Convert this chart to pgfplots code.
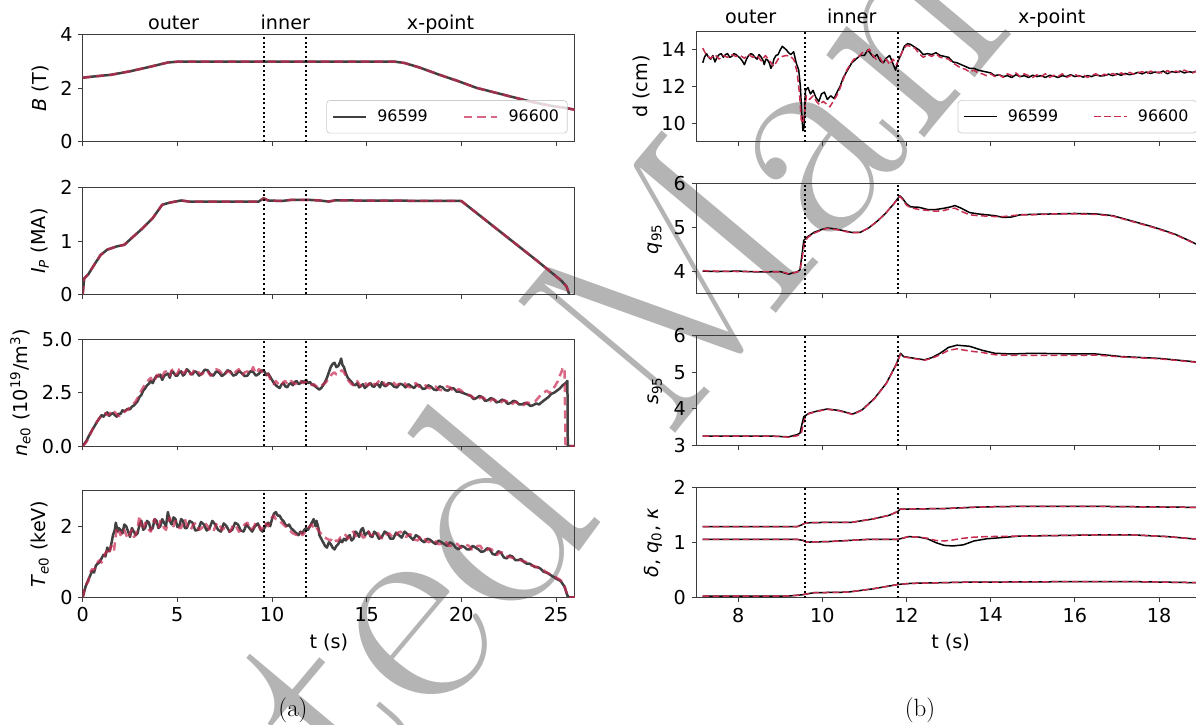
\documentclass[border=0pt]{standalone}
\usepackage{fontspec}
\usepackage{pgfplots}
\pgfplotsset{compat=1.18}
\newfontfamily\djv{DejaVu Sans}
\definecolor{g1}{RGB}{64,64,64}
\definecolor{crim}{RGB}{200,40,80}
\definecolor{crim2}{RGB}{200,45,80}
\definecolor{wm}{RGB}{180,180,180}
\definecolor{spine}{RGB}{60,60,60}
\pgfplotsset{
  every axis/.append style={
    scale only axis, clip mode=individual,
    font=\djv\fontsize{11.5}{13.8}\selectfont,
    /pgf/number format/assume math mode=true,
    axis line style={spine, line width=0.6pt},
    tick style={spine, line width=0.6pt},
    tick align=outside, major tick length=2.6pt,
    xtick pos=left, ytick pos=left,
    legend cell align=left,
    legend image code/.code={\draw[##1] (0pt,0pt) -- (20pt,0pt);},
  },
  L/.style={xmin=0, xmax=26, width=295.4pt, height=64.1pt, xtick={0,5,10,15,20,25}, xticklabels={}},
  R/.style={xmin=7, xmax=19.1, width=305.6pt, height=66pt, xtick={8,10,12,14,16,18}, xticklabels={}},
  s1/.style={color=g1, line width=1.5pt, line join=round},
  s2/.style={color=crim, opacity=0.7, line width=1.5pt, dash pattern=on 5pt off 3pt, line join=round},
  r1/.style={black, line width=0.9pt, line join=round},
  r2/.style={color=crim2, line width=0.9pt, dash pattern=on 4pt off 2pt, line join=round},
  vl/.style={black, line width=1.25pt, dash pattern=on 1.2pt off 1.6pt, forget plot},
  leg/.style={legend columns=2, legend style={at={(1,0)}, anchor=south east, xshift=#1, yshift=5pt,
     draw=black!20, rounded corners=2pt, fill=white, fill opacity=0.8, text opacity=1,
     font=\djv\fontsize{9.5}{11}\selectfont, inner xsep=3pt, inner ysep=3.5pt,
     /tikz/every odd column/.append style={column sep=4pt},
     /tikz/every even column/.append style={column sep=19pt}}},
}
\begin{document}
\begin{tikzpicture}
\useasboundingbox (0,0) rectangle (717.6pt,435pt);
\begin{scope}
\clip (0,0) rectangle (717.6pt,435pt);
\node[rotate=50, anchor=base west, text=wm, inner sep=0pt, font=\fontsize{180}{200}\selectfont] at (-60pt,-380pt) {Accepted Manuscript};

% ---------------- left column ----------------
\begin{axis}[L, at={(49.6pt,414pt)}, anchor=north west, ymin=0, ymax=4, ytick={0,2,4},
  ylabel={\textit{B} (T)}, leg=-4.4pt]
\addplot[s1] coordinates {(0,2.40)(0.5,2.44)(1.5,2.51)(2.5,2.64)(3.5,2.80)(4.5,2.97)(5,3.0)(16.5,3.0)(17,2.95)(17.8,2.78)(18.8,2.52)(19.8,2.28)(20.8,2.02)(21.8,1.84)(22.8,1.66)(23.8,1.48)(24.8,1.34)(25.5,1.27)(26,1.20)};
\addlegendentry{96599}
\addplot[s2] coordinates {(0,2.40)(0.5,2.44)(1.5,2.51)(2.5,2.64)(3.5,2.80)(4.5,2.97)(5,3.0)(16.5,3.0)(17,2.95)(17.8,2.78)(18.8,2.52)(19.8,2.28)(20.8,2.02)(21.8,1.84)(22.8,1.66)(23.8,1.48)(24.8,1.34)(25.5,1.27)(26,1.20)};
\addlegendentry{96600}
\addplot[vl] coordinates {(9.6,0)(9.6,4)};
\addplot[vl] coordinates {(11.8,0)(11.8,4)};
\node[anchor=base, yshift=3.4pt] at (axis cs:4.8,4) {outer};
\node[anchor=base, yshift=3.4pt] at (axis cs:10.7,4) {inner};
\node[anchor=base, yshift=3.4pt] at (axis cs:18.9,4) {x-point};
\end{axis}

\begin{axis}[L, at={(49.6pt,322.4pt)}, anchor=north west, ymin=0, ymax=2, ytick={0,1,2},
  ylabel={\textit{I}\textsubscript{\textit{P}} (MA)}]
\addplot[s1] coordinates {(0,0)(0.08,0.3)(0.3,0.38)(0.6,0.55)(0.95,0.74)(1.3,0.84)(1.8,0.9)(2.2,0.93)(2.6,1.06)(3.2,1.25)(3.7,1.43)(4.2,1.68)(4.6,1.72)(5.2,1.76)(5.6,1.74)(9.3,1.74)(9.55,1.80)(9.8,1.76)(10.5,1.75)(11,1.77)(12,1.77)(12.5,1.76)(13,1.74)(13.3,1.76)(14,1.76)(20,1.75)(21,1.47)(22,1.19)(23,0.91)(24,0.63)(24.9,0.37)(25.3,0.25)(25.55,0.15)(25.65,0.05)(25.7,0)};
\addplot[s2] coordinates {(0,0)(0.08,0.3)(0.3,0.38)(0.6,0.55)(0.95,0.74)(1.3,0.84)(1.8,0.9)(2.2,0.93)(2.6,1.06)(3.2,1.25)(3.7,1.43)(4.2,1.68)(4.6,1.72)(5.2,1.76)(5.6,1.74)(9.3,1.74)(9.55,1.80)(9.8,1.76)(10.5,1.75)(11,1.77)(12,1.77)(12.5,1.76)(13,1.74)(13.3,1.76)(14,1.76)(20,1.75)(21,1.47)(22,1.19)(23,0.91)(24,0.63)(24.9,0.37)(25.3,0.25)(25.55,0.15)(25.65,0.05)(25.7,0)};
\addplot[vl] coordinates {(9.6,0)(9.6,2)};
\addplot[vl] coordinates {(11.8,0)(11.8,2)};
\end{axis}

\begin{axis}[L, at={(49.6pt,231.4pt)}, anchor=north west, ymin=0, ymax=5, ytick={0,2.5,5}, yticklabels={0.0,2.5,5.0},
  ylabel={\textit{n}\textsubscript{\textit{e}0} (10\textsuperscript{19}/m\textsuperscript{3})}]
\addplot[s1] coordinates {(0.0,0.0)(0.2,0.25)(0.4,0.6)(0.6,0.9)(0.8,1.2)(1.0,1.45)(1.1,1.38)(1.2,1.5)(1.3,1.58)(1.4,1.42)(1.5,1.5)(1.6,1.55)(1.7,1.45)(1.8,1.38)(1.9,1.52)(2.0,1.5)(2.1,1.68)(2.2,1.62)(2.3,1.7)(2.4,1.75)(2.5,1.72)(2.6,1.85)(2.7,1.9)(2.8,2.0)(2.9,2.1)(3.0,2.3)(3.1,2.4)(3.2,2.6)(3.3,2.7)(3.4,2.85)(3.5,2.92)(3.6,3.05)(3.7,2.95)(3.8,3.15)(3.9,3.3)(4.0,3.25)(4.1,3.35)(4.2,3.1)(4.3,3.28)(4.4,3.35)(4.5,3.4)(4.6,3.2)(4.7,3.5)(4.8,3.45)(4.9,3.3)(5.0,3.3)(5.1,3.45)(5.2,3.5)(5.3,3.3)(5.4,3.38)(5.5,3.6)(5.6,3.52)(5.7,3.4)(5.8,3.35)(5.9,3.5)(6.0,3.48)(6.15,3.3)(6.3,3.4)(6.45,3.58)(6.6,3.55)(6.75,3.35)(6.9,3.3)(7.05,3.5)(7.2,3.45)(7.35,3.28)(7.5,3.38)(7.65,3.55)(7.8,3.5)(7.95,3.3)(8.1,3.35)(8.25,3.52)(8.4,3.42)(8.55,3.28)(8.7,3.3)(8.85,3.5)(9.0,3.48)(9.15,3.3)(9.3,3.38)(9.45,3.55)(9.6,3.5)(9.7,3.32)(9.8,3.4)(9.9,3.25)(10.0,3.1)(10.1,2.95)(10.2,2.85)(10.3,2.78)(10.4,2.72)(10.5,2.88)(10.6,2.95)(10.7,2.8)(10.8,2.75)(10.9,2.9)(11.0,2.95)(11.1,2.85)(11.2,3.0)(11.3,3.05)(11.4,2.9)(11.5,2.95)(11.6,3.05)(11.7,2.98)(11.8,3.1)(11.9,2.95)(12.0,3.0)(12.1,2.9)(12.2,2.85)(12.35,2.75)(12.5,2.65)(12.6,2.72)(12.7,2.85)(12.8,3.0)(12.9,3.2)(13.0,3.45)(13.1,3.7)(13.2,3.85)(13.3,3.9)(13.4,3.7)(13.5,3.75)(13.6,3.95)(13.65,4.1)(13.72,3.8)(13.8,3.7)(13.9,3.4)(14.0,3.2)(14.1,3.1)(14.2,3.0)(14.3,2.88)(14.4,2.85)(14.5,2.95)(14.6,2.75)(14.7,2.82)(14.8,2.9)(14.9,2.72)(15.0,2.8)(15.1,2.9)(15.2,2.95)(15.3,2.8)(15.4,2.78)(15.5,2.92)(15.6,2.88)(15.7,2.75)(15.8,3.0)(15.9,2.85)(16.0,2.8)(16.15,2.95)(16.3,2.92)(16.45,2.78)(16.6,2.75)(16.75,2.92)(16.9,2.88)(17.05,2.75)(17.2,2.9)(17.35,2.8)(17.5,2.72)(17.65,2.88)(17.8,2.85)(17.95,2.68)(18.1,2.7)(18.25,2.85)(18.4,2.78)(18.55,2.65)(18.7,2.62)(18.85,2.8)(19.0,2.75)(19.15,2.62)(19.3,2.6)(19.45,2.72)(19.6,2.7)(19.75,2.55)(19.9,2.55)(20.05,2.5)(20.2,2.45)(20.35,2.4)(20.5,2.35)(20.65,2.2)(20.8,2.25)(20.95,2.35)(21.1,2.3)(21.25,2.12)(21.4,2.15)(21.55,2.25)(21.7,2.2)(21.85,2.05)(22.0,2.08)(22.15,2.18)(22.3,2.12)(22.45,1.98)(22.6,2.02)(22.75,2.12)(22.9,2.08)(23.05,1.95)(23.2,1.95)(23.35,2.02)(23.5,1.98)(23.65,1.88)(23.8,1.92)(23.95,2.0)(24.1,1.95)(24.3,2.1)(24.45,2.2)(24.6,2.3)(24.75,2.45)(24.9,2.5)(25.05,2.6)(25.2,2.7)(25.35,2.85)(25.5,2.95)(25.6,3.05)(25.62,0.0)(26,0.0)};
\addplot[s2] coordinates {(0.0,0.0)(0.2,0.2)(0.4,0.55)(0.6,0.95)(0.8,1.2)(0.9,1.32)(1.0,1.4)(1.1,1.48)(1.2,1.55)(1.3,1.45)(1.4,1.48)(1.5,1.62)(1.6,1.7)(1.7,1.58)(1.8,1.5)(1.9,1.4)(2.0,1.45)(2.1,1.55)(2.2,1.6)(2.3,1.68)(2.4,1.7)(2.5,1.82)(2.6,1.9)(2.7,2.0)(2.8,2.1)(2.9,2.25)(3.0,2.4)(3.1,2.6)(3.2,2.75)(3.3,2.9)(3.4,3.0)(3.5,3.12)(3.6,3.2)(3.7,3.0)(3.8,3.05)(3.9,3.3)(4.0,3.35)(4.1,3.15)(4.2,3.2)(4.3,3.45)(4.4,3.5)(4.5,3.3)(4.6,3.3)(4.7,3.55)(4.8,3.6)(4.9,3.35)(5.0,3.4)(5.1,3.6)(5.2,3.65)(5.3,3.4)(5.4,3.45)(5.5,3.62)(5.6,3.55)(5.7,3.35)(5.8,3.42)(5.9,3.58)(6.0,3.6)(6.15,3.42)(6.3,3.35)(6.45,3.55)(6.6,3.5)(6.75,3.3)(6.9,3.42)(7.05,3.6)(7.2,3.55)(7.35,3.4)(7.5,3.3)(7.65,3.52)(7.8,3.45)(7.95,3.32)(8.1,3.5)(8.25,3.6)(8.4,3.3)(8.55,3.45)(8.7,3.5)(8.85,3.4)(9.0,3.7)(9.1,3.5)(9.2,3.4)(9.3,3.6)(9.4,3.55)(9.55,3.4)(9.7,3.3)(9.8,3.38)(9.9,3.15)(10.0,3.0)(10.1,2.9)(10.2,3.05)(10.3,2.95)(10.4,2.82)(10.5,2.85)(10.6,3.0)(10.7,3.05)(10.8,2.92)(10.9,2.9)(11.0,3.05)(11.1,3.0)(11.2,2.9)(11.3,2.95)(11.4,3.1)(11.5,3.05)(11.65,2.95)(11.8,3.0)(11.9,3.05)(12.0,2.95)(12.1,2.85)(12.2,2.9)(12.35,2.8)(12.5,2.75)(12.6,2.82)(12.7,2.9)(12.8,2.95)(12.9,3.05)(13.0,3.15)(13.1,3.3)(13.2,3.4)(13.3,3.45)(13.4,3.35)(13.5,3.4)(13.6,3.5)(13.7,3.55)(13.8,3.45)(13.9,3.3)(14.0,3.1)(14.1,3.0)(14.2,2.9)(14.3,2.85)(14.4,2.95)(14.5,3.05)(14.6,2.9)(14.7,2.8)(14.8,2.95)(14.9,3.0)(15.0,2.85)(15.1,2.85)(15.2,3.0)(15.3,3.05)(15.4,2.88)(15.5,2.9)(15.65,3.05)(15.8,3.1)(15.95,2.9)(16.1,2.85)(16.25,3.02)(16.4,3.0)(16.55,2.85)(16.7,2.9)(16.85,3.0)(17.0,2.95)(17.15,2.8)(17.3,2.75)(17.45,2.9)(17.6,2.95)(17.75,2.78)(17.9,2.8)(18.05,2.9)(18.2,2.75)(18.35,2.7)(18.5,2.85)(18.65,2.78)(18.8,2.65)(18.95,2.62)(19.1,2.7)(19.25,2.8)(19.4,2.75)(19.55,2.6)(19.7,2.55)(19.85,2.68)(20.0,2.6)(20.15,2.45)(20.3,2.4)(20.45,2.38)(20.6,2.3)(20.75,2.18)(20.9,2.2)(21.05,2.3)(21.2,2.25)(21.35,2.08)(21.5,2.1)(21.65,2.2)(21.8,2.15)(21.95,2.0)(22.1,2.05)(22.25,2.15)(22.4,2.1)(22.55,1.95)(22.7,1.98)(22.85,2.08)(23.0,2.0)(23.15,1.9)(23.3,1.92)(23.45,2.05)(23.6,2.02)(23.75,2.08)(23.9,2.1)(24.05,2.25)(24.2,2.4)(24.35,2.5)(24.5,2.6)(24.65,2.5)(24.8,2.55)(24.9,2.75)(25.0,2.9)(25.1,3.05)(25.2,3.3)(25.3,3.5)(25.35,3.7)(25.45,3.5)(25.5,0.0)(26,0.0)};
\addplot[vl] coordinates {(9.6,0)(9.6,5)};
\addplot[vl] coordinates {(11.8,0)(11.8,5)};
\end{axis}

\begin{axis}[L, at={(49.6pt,140.6pt)}, anchor=north west, ymin=0, ymax=3, ytick={0,2},
  xticklabels={0,5,10,15,20,25}, xlabel={t (s)},
  ylabel={\textit{T}\textsubscript{\textit{e}0} (keV)}]
\addplot[s1] coordinates {(0.0,0.0)(0.15,0.3)(0.3,0.5)(0.4,0.62)(0.5,0.75)(0.6,0.7)(0.7,0.9)(0.8,0.95)(0.9,1.0)(1.0,1.1)(1.1,1.2)(1.2,1.15)(1.3,1.4)(1.4,1.3)(1.45,1.35)(1.55,1.6)(1.6,1.75)(1.7,1.9)(1.75,2.1)(1.85,1.85)(1.9,1.95)(2.0,1.9)(2.1,1.8)(2.2,2.05)(2.3,2.0)(2.4,1.85)(2.5,1.7)(2.6,1.95)(2.7,1.85)(2.8,1.75)(2.9,1.8)(3.0,2.05)(3.1,2.15)(3.2,1.9)(3.3,1.95)(3.4,2.15)(3.5,2.1)(3.6,1.9)(3.7,1.95)(3.8,2.2)(3.9,2.15)(4.0,1.95)(4.1,2.0)(4.2,2.2)(4.3,2.1)(4.4,2.0)(4.5,2.4)(4.6,2.15)(4.7,2.05)(4.8,2.25)(4.9,2.2)(5.0,1.98)(5.1,2.0)(5.2,2.2)(5.3,2.15)(5.4,1.95)(5.5,1.95)(5.65,2.15)(5.8,2.1)(5.95,1.88)(6.1,1.9)(6.25,2.12)(6.4,2.05)(6.55,1.88)(6.7,1.95)(6.85,2.15)(7.0,2.05)(7.15,1.9)(7.3,1.85)(7.45,2.08)(7.6,2.0)(7.75,1.85)(7.9,1.9)(8.05,2.1)(8.2,2.05)(8.35,1.88)(8.5,1.85)(8.65,2.05)(8.8,1.95)(8.95,1.85)(9.1,2.0)(9.25,2.08)(9.4,1.9)(9.5,1.85)(9.6,1.95)(9.7,2.05)(9.8,2.1)(9.9,2.0)(10.0,2.2)(10.1,2.35)(10.2,2.4)(10.3,2.3)(10.4,2.3)(10.5,2.2)(10.6,2.15)(10.7,2.05)(10.8,2.0)(10.9,2.05)(11.0,1.95)(11.1,1.9)(11.2,1.85)(11.3,1.8)(11.4,1.75)(11.5,1.85)(11.6,1.8)(11.7,1.9)(11.8,1.95)(11.9,1.9)(12.0,2.0)(12.1,2.1)(12.2,2.2)(12.3,2.0)(12.35,2.15)(12.45,1.95)(12.5,1.75)(12.6,1.65)(12.7,1.55)(12.8,1.45)(12.9,1.4)(13.0,1.55)(13.1,1.5)(13.2,1.4)(13.3,1.35)(13.4,1.45)(13.5,1.5)(13.6,1.62)(13.7,1.55)(13.8,1.65)(13.9,1.6)(14.0,1.7)(14.1,1.75)(14.2,1.6)(14.3,1.65)(14.4,1.85)(14.5,1.8)(14.6,1.7)(14.7,1.9)(14.8,1.95)(14.9,1.75)(15.0,1.8)(15.1,1.85)(15.2,1.72)(15.3,1.7)(15.4,1.85)(15.5,1.8)(15.65,1.65)(15.8,1.7)(15.95,1.85)(16.1,1.8)(16.25,1.65)(16.4,1.65)(16.55,1.82)(16.7,1.75)(16.85,1.68)(17.0,1.85)(17.15,1.78)(17.3,1.7)(17.45,1.62)(17.6,1.75)(17.75,1.7)(17.9,1.6)(18.05,1.55)(18.2,1.65)(18.35,1.62)(18.5,1.55)(18.65,1.5)(18.8,1.6)(18.95,1.55)(19.1,1.5)(19.25,1.45)(19.4,1.55)(19.55,1.5)(19.7,1.4)(19.85,1.35)(20.0,1.45)(20.15,1.42)(20.3,1.35)(20.45,1.35)(20.6,1.45)(20.75,1.4)(20.9,1.35)(21.05,1.28)(21.2,1.3)(21.35,1.38)(21.5,1.35)(21.65,1.22)(21.8,1.2)(21.95,1.3)(22.1,1.25)(22.25,1.12)(22.4,1.1)(22.55,1.18)(22.7,1.15)(22.85,1.05)(23.0,1.05)(23.15,1.08)(23.3,1.0)(23.45,0.95)(23.6,0.95)(23.75,0.9)(23.9,0.85)(24.05,0.85)(24.2,0.8)(24.35,0.72)(24.5,0.7)(24.65,0.65)(24.8,0.6)(24.95,0.55)(25.1,0.5)(25.2,0.48)(25.3,0.42)(25.45,0.3)(25.6,0.05)(25.7,0.0)(26,0.0)};
\addplot[s2] coordinates {(0.0,0.0)(0.15,0.35)(0.3,0.45)(0.4,0.7)(0.5,0.8)(0.6,0.78)(0.7,0.85)(0.8,1.0)(0.9,1.05)(1.0,0.98)(1.1,1.1)(1.2,1.25)(1.3,1.3)(1.4,1.2)(1.5,1.45)(1.6,1.4)(1.65,1.3)(1.72,1.6)(1.8,1.95)(1.9,1.9)(2.0,1.75)(2.1,1.95)(2.2,1.9)(2.3,1.75)(2.4,1.65)(2.5,1.8)(2.6,1.9)(2.7,1.7)(2.8,1.75)(2.9,1.95)(3.0,2.3)(3.1,2.0)(3.2,1.9)(3.3,2.1)(3.4,2.05)(3.5,1.9)(3.6,1.85)(3.7,2.1)(3.8,2.2)(3.9,2.0)(4.0,1.95)(4.1,2.15)(4.2,2.1)(4.3,1.95)(4.4,1.9)(4.5,2.1)(4.6,2.25)(4.7,2.05)(4.8,2.0)(4.9,2.15)(5.0,2.1)(5.1,1.95)(5.2,1.95)(5.3,2.1)(5.4,2.2)(5.55,1.95)(5.7,1.9)(5.85,2.05)(6.0,2.1)(6.15,1.9)(6.3,1.95)(6.45,2.1)(6.6,2.0)(6.75,1.85)(6.9,1.85)(7.05,2.05)(7.2,2.1)(7.35,1.9)(7.5,1.95)(7.65,1.85)(7.8,1.85)(7.95,2.05)(8.1,2.0)(8.25,1.85)(8.4,1.9)(8.55,2.05)(8.7,2.1)(8.85,1.9)(9.0,1.95)(9.15,2.1)(9.3,2.05)(9.4,1.9)(9.5,1.95)(9.6,2.1)(9.7,2.05)(9.8,2.0)(9.9,2.15)(10.0,2.25)(10.1,2.3)(10.2,2.2)(10.3,2.2)(10.4,2.15)(10.5,2.1)(10.6,2.05)(10.7,2.0)(10.8,1.95)(10.9,1.9)(11.0,1.85)(11.1,1.8)(11.2,1.78)(11.3,1.75)(11.4,1.82)(11.5,1.85)(11.6,1.75)(11.7,1.8)(11.8,1.9)(11.9,1.95)(12.0,2.0)(12.1,2.05)(12.2,1.95)(12.3,2.0)(12.4,1.92)(12.5,1.85)(12.6,1.78)(12.7,1.7)(12.8,1.68)(12.9,1.65)(13.0,1.62)(13.1,1.6)(13.2,1.68)(13.3,1.65)(13.4,1.58)(13.5,1.6)(13.6,1.68)(13.7,1.7)(13.8,1.78)(13.9,1.75)(14.0,1.65)(14.1,1.7)(14.2,1.8)(14.3,1.85)(14.4,1.72)(14.5,1.75)(14.6,1.82)(14.7,1.8)(14.8,1.68)(14.9,1.7)(15.0,1.8)(15.1,1.85)(15.2,1.75)(15.3,1.75)(15.45,1.85)(15.6,1.8)(15.75,1.68)(15.9,1.65)(16.05,1.78)(16.2,1.8)(16.35,1.7)(16.5,1.7)(16.65,1.82)(16.8,1.85)(16.95,1.72)(17.1,1.7)(17.25,1.78)(17.4,1.75)(17.55,1.62)(17.7,1.6)(17.85,1.72)(18.0,1.7)(18.15,1.58)(18.3,1.55)(18.45,1.62)(18.6,1.6)(18.75,1.5)(18.9,1.5)(19.05,1.58)(19.2,1.55)(19.35,1.45)(19.5,1.45)(19.65,1.52)(19.8,1.5)(19.95,1.4)(20.1,1.4)(20.25,1.48)(20.4,1.45)(20.55,1.35)(20.7,1.35)(20.85,1.45)(21.0,1.45)(21.15,1.32)(21.3,1.3)(21.45,1.38)(21.6,1.35)(21.75,1.22)(21.9,1.2)(22.05,1.28)(22.2,1.25)(22.35,1.15)(22.5,1.15)(22.65,1.12)(22.8,1.1)(22.95,1.08)(23.1,1.05)(23.25,1.02)(23.4,1.0)(23.55,0.95)(23.7,0.9)(23.85,0.88)(24.0,0.85)(24.15,0.8)(24.3,0.78)(24.45,0.72)(24.6,0.68)(24.75,0.64)(24.9,0.6)(25.05,0.55)(25.2,0.5)(25.3,0.45)(25.4,0.38)(25.55,0.15)(25.65,0.0)(26,0.0)};
\addplot[vl] coordinates {(9.6,0)(9.6,3)};
\addplot[vl] coordinates {(11.8,0)(11.8,3)};
\end{axis}

% ---------------- right column ----------------
\begin{axis}[R, at={(417.6pt,416pt)}, anchor=north west, ymin=9, ymax=15, ytick={10,12,14},
  ylabel={d (cm)}, leg=-5pt]
\addplot[r1] coordinates {(7.16,13.3)(7.2,13.6)(7.25,13.8)(7.3,13.6)(7.35,13.5)(7.4,13.7)(7.45,13.35)(7.5,13.6)(7.55,13.75)(7.6,13.8)(7.65,13.6)(7.7,13.75)(7.75,13.8)(7.8,13.6)(7.85,13.65)(7.9,13.8)(7.95,13.75)(8.0,13.65)(8.05,13.55)(8.1,13.4)(8.15,13.2)(8.2,13.5)(8.25,13.7)(8.3,13.8)(8.35,13.75)(8.4,13.6)(8.45,13.5)(8.5,13.75)(8.55,13.6)(8.6,13.4)(8.62,13.2)(8.66,13.5)(8.7,13.45)(8.74,13.3)(8.78,13.0)(8.82,13.2)(8.85,13.5)(8.9,13.7)(8.95,13.75)(9.0,14.0)(9.05,14.2)(9.1,14.1)(9.15,14.0)(9.2,13.85)(9.25,13.75)(9.32,13.9)(9.38,13.3)(9.44,12.9)(9.48,12.0)(9.51,10.6)(9.54,9.6)(9.57,9.8)(9.6,11.8)(9.66,11.95)(9.72,11.6)(9.78,11.8)(9.85,11.4)(9.92,11.2)(9.98,11.6)(10.05,11.7)(10.12,11.3)(10.2,11.5)(10.28,11.35)(10.35,11.7)(10.42,12.0)(10.5,12.5)(10.6,12.9)(10.7,13.3)(10.8,13.5)(10.9,13.7)(11.0,13.7)(11.08,14.0)(11.15,13.8)(11.22,13.6)(11.3,13.75)(11.38,13.4)(11.45,13.3)(11.52,13.55)(11.6,13.7)(11.67,13.3)(11.74,12.9)(11.8,13.4)(11.88,13.8)(11.95,14.2)(12.03,14.35)(12.1,14.3)(12.2,14.15)(12.3,14.0)(12.4,13.75)(12.5,13.8)(12.6,13.75)(12.7,13.85)(12.8,13.7)(12.9,13.65)(13.0,13.6)(13.1,13.35)(13.2,13.3)(13.3,13.2)(13.4,13.1)(13.5,13.0)(13.6,13.0)(13.7,12.9)(13.8,12.85)(13.9,12.8)(14.0,12.75)(14.1,12.6)(14.2,12.65)(14.3,12.55)(14.4,12.6)(14.5,12.5)(14.6,12.65)(14.7,12.55)(14.8,12.6)(14.9,12.5)(15.0,12.62)(15.1,12.55)(15.2,12.6)(15.3,12.5)(15.4,12.62)(15.5,12.58)(15.6,12.5)(15.7,12.6)(15.8,12.55)(15.9,12.65)(16.0,12.55)(16.1,12.6)(16.2,12.52)(16.3,12.6)(16.4,12.55)(16.5,12.65)(16.6,12.58)(16.7,12.6)(16.8,12.68)(16.9,12.6)(17.0,12.7)(17.1,12.62)(17.2,12.72)(17.3,12.65)(17.4,12.7)(17.5,12.78)(17.6,12.7)(17.7,12.8)(17.8,12.72)(17.9,12.8)(18.0,12.75)(18.1,12.85)(18.2,12.7)(18.3,12.82)(18.4,12.78)(18.5,12.85)(18.6,12.75)(18.7,12.82)(18.8,12.78)(18.9,12.85)(19.0,12.8)(19.1,12.82)};
\addlegendentry{96599}
\addplot[r2] coordinates {(7.16,14.1)(7.25,13.7)(7.35,13.55)(7.45,13.75)(7.55,13.5)(7.65,13.7)(7.75,13.6)(7.85,13.75)(7.95,13.65)(8.05,13.7)(8.15,13.55)(8.25,13.75)(8.35,13.6)(8.45,13.7)(8.55,13.4)(8.65,13.7)(8.75,13.4)(8.85,13.1)(8.95,13.5)(9.05,13.65)(9.15,13.7)(9.25,13.65)(9.33,13.45)(9.4,12.8)(9.46,11.6)(9.5,10.2)(9.54,10.0)(9.58,10.6)(9.62,11.5)(9.7,11.3)(9.78,11.5)(9.86,11.2)(9.94,11.0)(10.02,11.2)(10.1,11.05)(10.18,10.9)(10.26,11.2)(10.34,11.5)(10.42,11.9)(10.5,12.4)(10.58,12.9)(10.66,13.2)(10.75,13.5)(10.85,13.6)(10.95,13.85)(11.05,13.9)(11.12,14.05)(11.2,13.7)(11.28,13.5)(11.36,13.6)(11.44,13.3)(11.52,13.5)(11.6,13.2)(11.68,13.5)(11.76,13.2)(11.84,13.6)(11.92,14.0)(12.0,14.25)(12.1,14.2)(12.2,14.1)(12.3,13.8)(12.4,13.6)(12.5,13.75)(12.6,13.65)(12.7,13.8)(12.8,13.6)(12.9,13.55)(13.0,13.5)(13.1,13.3)(13.2,13.15)(13.3,13.0)(13.4,12.95)(13.5,12.8)(13.6,12.9)(13.7,12.75)(13.8,12.7)(13.9,12.6)(14.0,12.7)(14.1,12.55)(14.2,12.65)(14.3,12.5)(14.4,12.7)(14.5,12.6)(14.6,12.75)(14.7,12.55)(14.8,12.7)(14.9,12.6)(15.0,12.5)(15.1,12.65)(15.2,12.55)(15.3,12.7)(15.4,12.5)(15.5,12.62)(15.6,12.55)(15.7,12.7)(15.8,12.5)(15.9,12.6)(16.0,12.68)(16.1,12.55)(16.2,12.65)(16.3,12.5)(16.4,12.62)(16.5,12.7)(16.6,12.55)(16.7,12.68)(16.8,12.6)(16.9,12.72)(17.0,12.62)(17.1,12.75)(17.2,12.65)(17.3,12.78)(17.4,12.68)(17.5,12.75)(17.6,12.82)(17.7,12.7)(17.8,12.85)(17.9,12.75)(18.0,12.8)(18.1,12.72)(18.2,12.88)(18.3,12.75)(18.4,12.85)(18.5,12.78)(18.6,12.9)(18.7,12.8)(18.8,12.75)(18.9,12.85)(19.0,12.8)(19.1,12.85)};
\addlegendentry{96600}
\addplot[vl] coordinates {(9.6,9)(9.6,15)};
\addplot[vl] coordinates {(11.8,9)(11.8,15)};
\node[anchor=base, yshift=4.8pt] at (axis cs:8.3,15) {outer};
\node[anchor=base, yshift=4.8pt] at (axis cs:10.7,15) {inner};
\node[anchor=base, yshift=4.8pt] at (axis cs:15.45,15) {x-point};
\end{axis}

\begin{axis}[R, at={(417.6pt,324.6pt)}, anchor=north west, ymin=3.5, ymax=6, ytick={4,5,6},
  ylabel={\textit{q}\textsubscript{95}}]
\addplot[r1] coordinates {(7.16,4.02)(7.5,4.01)(8.0,4.02)(8.5,4.0)(9.0,4.01)(9.1,3.98)(9.2,3.95)(9.3,3.98)(9.4,4.0)(9.47,4.05)(9.52,4.4)(9.56,4.72)(9.65,4.8)(9.8,4.9)(10.0,4.97)(10.12,5.0)(10.3,4.98)(10.5,4.94)(10.7,4.9)(10.9,4.9)(11.1,5.0)(11.3,5.15)(11.5,5.33)(11.7,5.55)(11.84,5.73)(11.9,5.68)(12.0,5.55)(12.1,5.48)(12.3,5.47)(12.5,5.42)(12.7,5.42)(12.9,5.45)(13.05,5.48)(13.15,5.51)(13.3,5.45)(13.5,5.35)(13.7,5.32)(13.9,5.3)(14.1,5.28)(14.3,5.24)(14.5,5.25)(14.7,5.3)(15.0,5.31)(15.5,5.32)(16.0,5.33)(16.5,5.32)(16.9,5.28)(17.2,5.2)(17.5,5.12)(17.8,5.04)(18.1,4.95)(18.4,4.85)(18.7,4.72)(19.0,4.58)(19.1,4.53)};
\addplot[r2] coordinates {(7.16,4.03)(7.5,4.02)(8.0,4.01)(8.5,4.01)(9.0,4.0)(9.1,3.99)(9.2,3.96)(9.3,3.97)(9.4,4.0)(9.47,4.03)(9.52,4.3)(9.58,4.68)(9.65,4.78)(9.8,4.88)(10.0,4.96)(10.12,4.99)(10.3,4.97)(10.5,4.93)(10.7,4.89)(10.9,4.9)(11.1,5.0)(11.3,5.15)(11.5,5.33)(11.7,5.55)(11.84,5.72)(11.9,5.66)(12.0,5.52)(12.1,5.46)(12.3,5.42)(12.5,5.4)(12.7,5.38)(12.9,5.4)(13.05,5.44)(13.15,5.45)(13.3,5.38)(13.5,5.3)(13.7,5.28)(13.9,5.27)(14.1,5.26)(14.3,5.26)(14.5,5.28)(14.7,5.3)(15.0,5.3)(15.5,5.32)(16.0,5.32)(16.5,5.31)(16.9,5.27)(17.2,5.19)(17.5,5.11)(17.8,5.03)(18.1,4.94)(18.4,4.84)(18.7,4.71)(19.0,4.57)(19.1,4.52)};
\addplot[vl] coordinates {(9.6,3.5)(9.6,6)};
\addplot[vl] coordinates {(11.8,3.5)(11.8,6)};
\end{axis}

\begin{axis}[R, at={(417.6pt,233.6pt)}, anchor=north west, ymin=3, ymax=6, ytick={3,4,5,6},
  ylabel={\textit{s}\textsubscript{95}}]
\addplot[r1] coordinates {(7.16,3.26)(8.0,3.26)(8.8,3.26)(9.0,3.25)(9.2,3.24)(9.4,3.3)(9.47,3.34)(9.52,3.6)(9.56,3.79)(9.68,3.88)(9.9,3.95)(10.12,4.0)(10.4,3.96)(10.72,3.86)(10.95,3.98)(11.24,4.29)(11.52,4.70)(11.75,5.2)(11.86,5.52)(11.93,5.43)(12.2,5.38)(12.43,5.34)(12.6,5.4)(12.8,5.52)(13.0,5.68)(13.2,5.74)(13.5,5.71)(13.8,5.6)(14.1,5.52)(14.5,5.5)(15.0,5.52)(16.0,5.5)(16.5,5.5)(17.1,5.43)(18.0,5.38)(19.1,5.26)};
\addplot[r2] coordinates {(7.16,3.26)(8.0,3.26)(8.8,3.26)(9.0,3.25)(9.2,3.23)(9.4,3.27)(9.5,3.32)(9.55,3.6)(9.6,3.8)(9.68,3.87)(9.9,3.94)(10.12,3.99)(10.4,3.95)(10.72,3.85)(10.95,3.97)(11.24,4.28)(11.52,4.69)(11.75,5.2)(11.86,5.5)(11.93,5.42)(12.2,5.37)(12.43,5.33)(12.6,5.38)(12.8,5.48)(13.0,5.6)(13.2,5.64)(13.5,5.58)(13.8,5.54)(14.1,5.48)(14.5,5.46)(15.0,5.46)(16.0,5.46)(16.5,5.47)(17.1,5.42)(18.0,5.37)(19.1,5.25)};
\addplot[vl] coordinates {(9.6,3)(9.6,6)};
\addplot[vl] coordinates {(11.8,3)(11.8,6)};
\end{axis}

\begin{axis}[R, at={(417.6pt,142.4pt)}, anchor=north west, ymin=0, ymax=2, ytick={0,1,2},
  xticklabels={8,10,12,14,16,18}, xlabel={t (s)},
  ylabel={\textit{δ}, \textit{q}\textsubscript{0}, \textit{κ}}]
\addplot[r1] coordinates {(7.16,1.29)(9.4,1.29)(9.5,1.32)(9.6,1.36)(10.15,1.37)(10.7,1.37)(11.2,1.43)(11.6,1.5)(11.8,1.57)(11.85,1.61)(12.9,1.62)(13.8,1.65)(14.7,1.66)(16.5,1.66)(19.1,1.64)};
\addplot[r2] coordinates {(7.16,1.29)(9.4,1.29)(9.5,1.32)(9.6,1.36)(10.15,1.37)(10.7,1.37)(11.2,1.43)(11.6,1.5)(11.8,1.57)(11.85,1.61)(12.9,1.62)(13.8,1.65)(14.7,1.66)(16.5,1.66)(19.1,1.64)};
\addplot[r1] coordinates {(7.16,1.06)(9.4,1.06)(9.55,1.04)(9.62,1.01)(10.15,1.02)(11.1,1.06)(11.8,1.06)(12.05,1.11)(12.3,1.1)(12.5,1.07)(12.7,1.0)(12.9,0.95)(13.1,0.94)(13.35,0.96)(13.6,1.03)(13.9,1.07)(14.7,1.12)(16.5,1.14)(17.4,1.14)(18.2,1.11)(19.1,1.05)};
\addplot[r2] coordinates {(7.16,1.06)(9.4,1.06)(9.55,1.04)(9.62,1.01)(10.15,1.02)(11.1,1.06)(11.8,1.06)(12.05,1.11)(12.3,1.1)(12.5,1.08)(12.7,1.04)(12.9,1.03)(13.1,1.05)(13.35,1.08)(13.6,1.1)(13.9,1.11)(14.7,1.12)(16.5,1.14)(17.4,1.14)(18.2,1.11)(19.1,1.05)};
\addplot[r1] coordinates {(7.16,0.03)(9.2,0.03)(9.5,0.05)(9.8,0.09)(10.6,0.10)(11.2,0.16)(11.8,0.24)(12.1,0.26)(13.3,0.28)(15.6,0.29)(17.5,0.29)(19.1,0.27)};
\addplot[r2] coordinates {(7.16,0.03)(9.2,0.03)(9.5,0.05)(9.8,0.09)(10.6,0.10)(11.2,0.16)(11.8,0.24)(12.1,0.26)(13.3,0.28)(15.6,0.29)(17.5,0.29)(19.1,0.27)};
\addplot[vl] coordinates {(9.6,0)(9.6,2)};
\addplot[vl] coordinates {(11.8,0)(11.8,2)};
\end{axis}

\node[font=\fontsize{15}{18}\selectfont] at (175.8pt,9pt) {(a)};
\node[font=\fontsize{15}{18}\selectfont] at (552pt,9pt) {(b)};
\end{scope}
\end{tikzpicture}
\end{document}
